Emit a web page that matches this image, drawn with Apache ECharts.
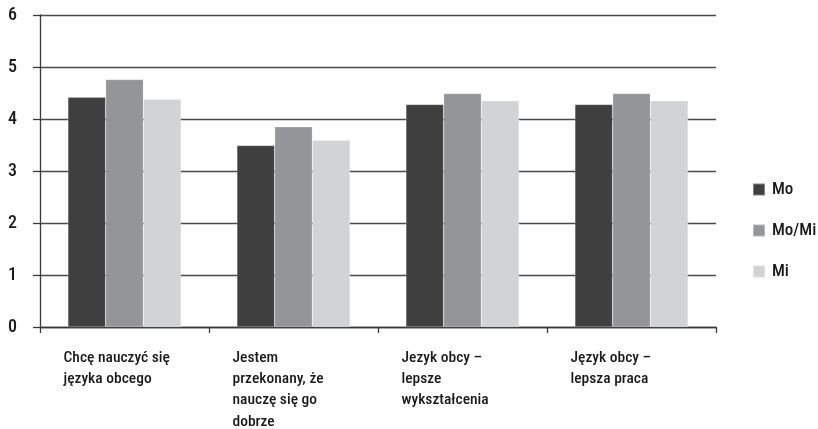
<!DOCTYPE html>
<html>
<head>
<meta charset="utf-8">
<script src="https://cdn.jsdelivr.net/npm/echarts@6/dist/echarts.min.js"></script>
<style>
  html, body { margin: 0; padding: 0; background: #fff; }
  #chart { width: 818px; height: 429px; }
</style>
</head>
<body>
<div id="chart"></div>
<script>
// Category labels (line breaks as printed under the axis)
const categories = [
  'Chcę nauczyć się\njęzyka obcego',
  'Jestem\nprzekonany, że\nnauczę się go\ndobrze',
  'Jezyk obcy –\nlepsze\nwykształcenia',
  'Język obcy –\nlepsza praca'
];

// Mean scores per group
const seriesNames = ['Mo', 'Mo/Mi', 'Mi'];
const valuesMo   = [4.42, 3.49, 4.28, 4.28];
const valuesMoMi = [4.76, 3.85, 4.49, 4.49];
const valuesMi   = [4.38, 3.59, 4.35, 4.35];

const colors = ['#3f3f3f', '#949598', '#d2d3d5'];
const FONT = '"Roboto Condensed", "DejaVu Sans Condensed", sans-serif';
const WEIGHT = 500;
const TEXT = '#1a1a1a';
const AXIS = '#3a3a3a';

const chart = echarts.init(document.getElementById('chart'));

const mkSeries = (name, data, color) => ({
  name: name,
  type: 'bar',
  data: data,
  barGap: '0%',
  barCategoryGap: '33%',
  itemStyle: { color: color, borderColor: 'rgba(255,255,255,0.35)', borderWidth: 0.6 },
  emphasis: { disabled: true }
});

chart.setOption({
  animation: false,
  backgroundColor: '#ffffff',
  grid: { left: 40, right: 102, top: 15, bottom: 102, containLabel: false, outerBoundsMode: 'none' },
  legend: {
    orient: 'vertical',
    left: 752,
    top: 181,
    padding: 0,
    itemWidth: 12,
    itemHeight: 12,
    itemGap: 24,
    icon: 'rect',
    data: seriesNames,
    selectedMode: false,
    textStyle: { fontFamily: FONT, fontWeight: WEIGHT, fontSize: 17, color: TEXT, padding: [0, 0, 0, 2] }
  },
  xAxis: {
    type: 'category',
    data: categories,
    axisLine: { show: true, lineStyle: { color: AXIS, width: 1.3 } },
    axisTick: { show: true, length: 6, lineStyle: { color: AXIS, width: 1.3 } },
    axisLabel: {
      interval: 0,
      margin: 20,
      align: 'center',
      verticalAlign: 'top',
      formatter: function (v) {
        return v.split('\n').map(function (l) { return '{t|' + l + '}'; }).join('\n');
      },
      rich: {
        t: {
          width: 122,
          align: 'left',
          fontFamily: FONT,
          fontWeight: WEIGHT,
          fontSize: 15.5,
          lineHeight: 21.4,
          color: TEXT
        }
      }
    }
  },
  yAxis: {
    type: 'value',
    min: 0,
    max: 6,
    interval: 1,
    axisLine: { show: true, lineStyle: { color: AXIS, width: 1.3 } },
    axisTick: { show: true, length: 7, lineStyle: { color: AXIS, width: 1.3 } },
    splitLine: { show: true, lineStyle: { color: '#4a4a4a', width: 1.3 } },
    axisLabel: {
      margin: 23,
      fontFamily: FONT,
      fontWeight: WEIGHT,
      fontSize: 18,
      color: TEXT,
      padding: [4, 0, 0, 0]
    }
  },
  series: [
    mkSeries(seriesNames[0], valuesMo, colors[0]),
    mkSeries(seriesNames[1], valuesMoMi, colors[1]),
    mkSeries(seriesNames[2], valuesMi, colors[2])
  ]
});
</script>
</body>
</html>
